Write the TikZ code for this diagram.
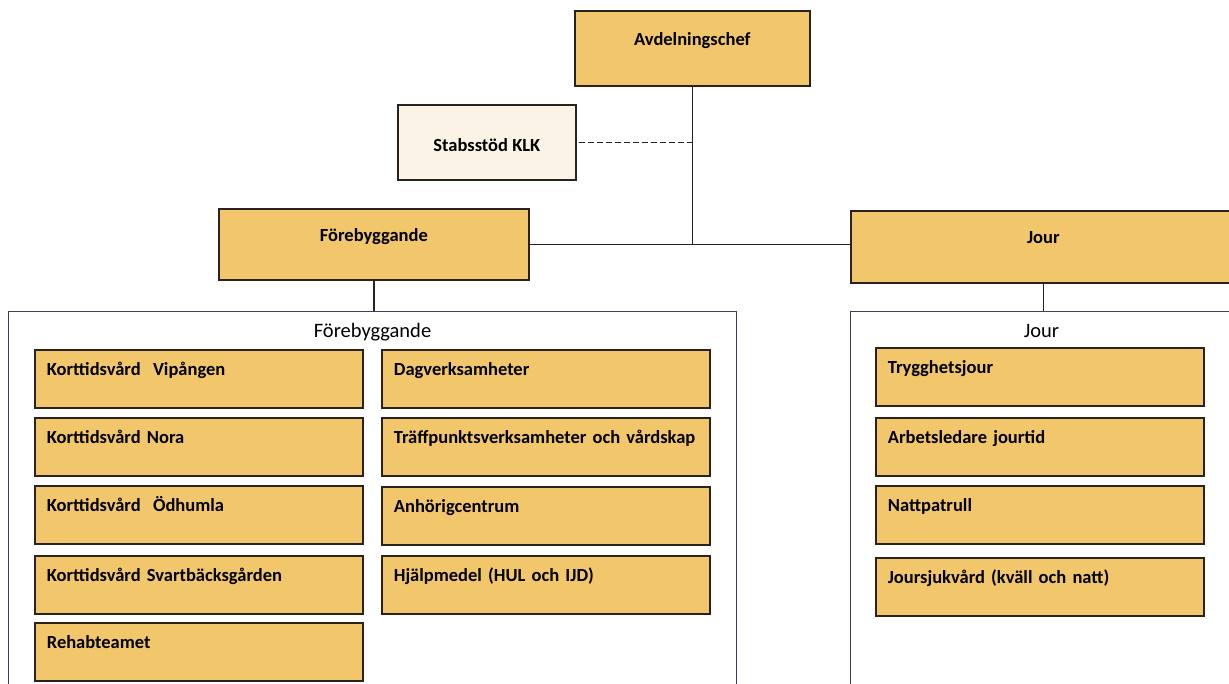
\documentclass[tikz,border=0pt]{standalone}
\usepackage{fontspec}
\setmainfont{Carlito}
\definecolor{boxgold}{HTML}{F2C76C}
\definecolor{boxline}{HTML}{2A221E}
\definecolor{cream}{HTML}{FBF4E6}
\definecolor{contline}{HTML}{3A4258}
\begin{document}
\begin{tikzpicture}[x=1pt,y=-1pt,
  gold/.style={draw=boxline, fill=boxgold, line width=1.7pt, inner sep=0pt},
  head/.style={gold, anchor=north west, font=\fontsize{18.5}{20}\selectfont\bfseries, align=center},
  item/.style={gold, anchor=north west, font=\fontsize{18.5}{20}\selectfont\bfseries,
    align=left, text width=304pt, inner xsep=12pt, inner ysep=0pt, text height=26pt, text depth=32pt},
  cont/.style={draw=contline, line width=1pt, anchor=north west, inner sep=0pt,
    font=\fontsize{20.5}{22}\selectfont, text height=26pt, text depth=374pt},
  conn/.style={draw=boxline, line width=1.6pt}]
\fill[white] (0,0) rectangle (1229,684);
\useasboundingbox (0,0) rectangle (1229,684);

% top level
\node[head, minimum width=235pt, text height=35pt, text depth=40pt] (av) at (574,10) {Avdelningschef};
\node[head, fill=cream, minimum width=178pt, text height=47pt, text depth=28pt] (stab) at (397,104) {Stabsstöd KLK};
\node[head, minimum width=310pt, text height=33pt, text depth=38pt] (fore) at (218,208) {Förebyggande};
\node[head, minimum width=385pt, text height=33pt, text depth=39pt] (jour) at (850,210) {Jour};

% containers
\node[cont, minimum width=728pt] (forec) at (8,311) {Förebyggande};
\node[cont, minimum width=382pt] (jourc) at (850,311) {Jour};

% Förebyggande left column
\node[item] (k1) at (34,349) {Korttidsvård\ \ Vipången};
\node[item] (k2) at (34,417) {Korttidsvård Nora};
\node[item] (k3) at (34,485) {Korttidsvård\ \ Ödhumla};
\node[item] (k4) at (34,555) {Korttidsvård Svartbäcksgården};
\node[item] (k5) at (34,622) {Rehabteamet};

% Förebyggande right column
\node[item] (d1) at (381,349) {Dagverksamheter};
\node[item] (d2) at (381,417) {Träffpunktsverksamheter och vårdskap};
\node[item] (d3) at (381,486) {Anhörigcentrum};
\node[item] (d4) at (381,555) {Hjälpmedel (HUL och IJD)};

% Jour column
\node[item] (j1) at (875,347) {Trygghetsjour};
\node[item] (j2) at (875,417) {Arbetsledare jourtid};
\node[item] (j3) at (875,485) {Nattpatrull};
\node[item] (j4) at (875,557) {Joursjukvård (kväll och natt)};

% connectors
\draw[conn] (av.south) -- (av.south |- fore.east);
\draw[conn] (fore.east) -- (fore.east -| jour.west);
\draw[conn, line width=1.2pt, dash pattern=on 6pt off 3pt] ([xshift=2pt]stab.east) -- (stab.east -| av.south);
\draw[conn] (fore.south) -- (fore.south |- forec.north);
\draw[conn] (jour.south) -- (jour.south |- jourc.north);
\end{tikzpicture}
\end{document}
